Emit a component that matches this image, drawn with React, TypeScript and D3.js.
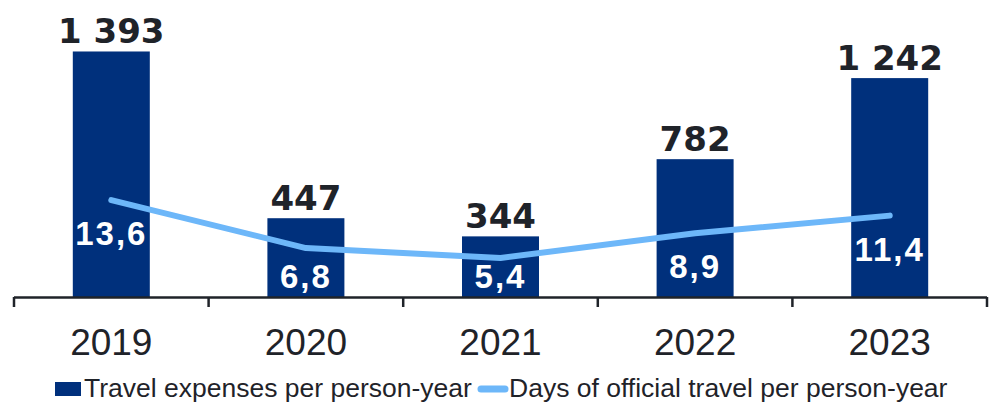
import React from "react";
import * as d3 from "d3";

const years = ["2019", "2020", "2021", "2022", "2023"];
const expenses = [1393, 447, 344, 782, 1242];
const expenseLabels = ["1 393", "447", "344", "782", "1 242"];
const days = [13.6, 6.8, 5.4, 8.9, 11.4];
const dayLabels = ["13,6", "6,8", "5,4", "8,9", "11,4"];
const legendLabels = ["Travel expenses per person-year", "Days of official travel per person-year"];

const W = 1001;
const H = 416;
const BAR = "#00307c";
const LINE = "#6db7f9";
const TXT = "#1f2329";

export default function App() {
  const x = d3.scaleBand<string>().domain(years).range([14, 987]).paddingInner(0).paddingOuter(0);
  const bw = 77;
  const yL = d3.scaleLinear().domain([0, 1600]).range([297, 15]);
  const yR = d3.scaleLinear().domain([0, 40]).range([296, 14]);
  const cx = (i: number) => (x(years[i]) as number) + x.bandwidth() / 2;
  const line = d3
    .line<number>()
    .x((_, i) => cx(i))
    .y((d) => yR(d));
  const ticks = [...years.map((y) => x(y) as number), 987];
  return (
    <svg width={W} height={H} style={{ position: "absolute", left: 0, top: 0, background: "#fff" }} fontFamily="'Liberation Sans', Arial, sans-serif">
      {expenses.map((v, i) => (
        <rect key={"b" + i} x={cx(i) - bw / 2} y={yL(v)} width={bw} height={yL(0) - yL(v)} fill={BAR} />
      ))}
      {expenses.map((v, i) => (
        <text key={"bl" + i} x={cx(i)} y={yL(v) - 8} textAnchor="middle" fontSize={34} fontWeight="bold" fill={TXT} fontFamily="'DejaVu Sans', sans-serif">
          {expenseLabels[i]}
        </text>
      ))}
      <path d={line(days) || ""} fill="none" stroke={LINE} strokeWidth={6} strokeLinecap="round" strokeLinejoin="round" />
      {days.map((v, i) => (
        <text key={"dl" + i} x={cx(i)} y={Math.min(yR(v) + 45, 288)} textAnchor="middle" fontSize={33} fontWeight="bold" fill="#fff" letterSpacing={2}>
          {dayLabels[i]}
        </text>
      ))}
      <line x1={14} x2={987} y1={297.5} y2={297.5} stroke={TXT} strokeWidth={2.5} />
      {ticks.map((t, i) => (
        <line key={"t" + i} x1={t} x2={t} y1={297} y2={307} stroke={TXT} strokeWidth={2.5} />
      ))}
      {years.map((y, i) => (
        <text key={"x" + i} x={cx(i)} y={355} textAnchor="middle" fontSize={37} fill={TXT}>
          {y}
        </text>
      ))}
      <rect x={55} y={382} width={26} height={14} fill={BAR} />
      <text x={84} y={397} fontSize={26.5} fill={TXT}>{legendLabels[0]}</text>
      <line x1={481} x2={505} y1={389} y2={389} stroke={LINE} strokeWidth={7} strokeLinecap="round" />
      <text x={509} y={397} fontSize={26.5} fill={TXT}>{legendLabels[1]}</text>
    </svg>
  );
}
